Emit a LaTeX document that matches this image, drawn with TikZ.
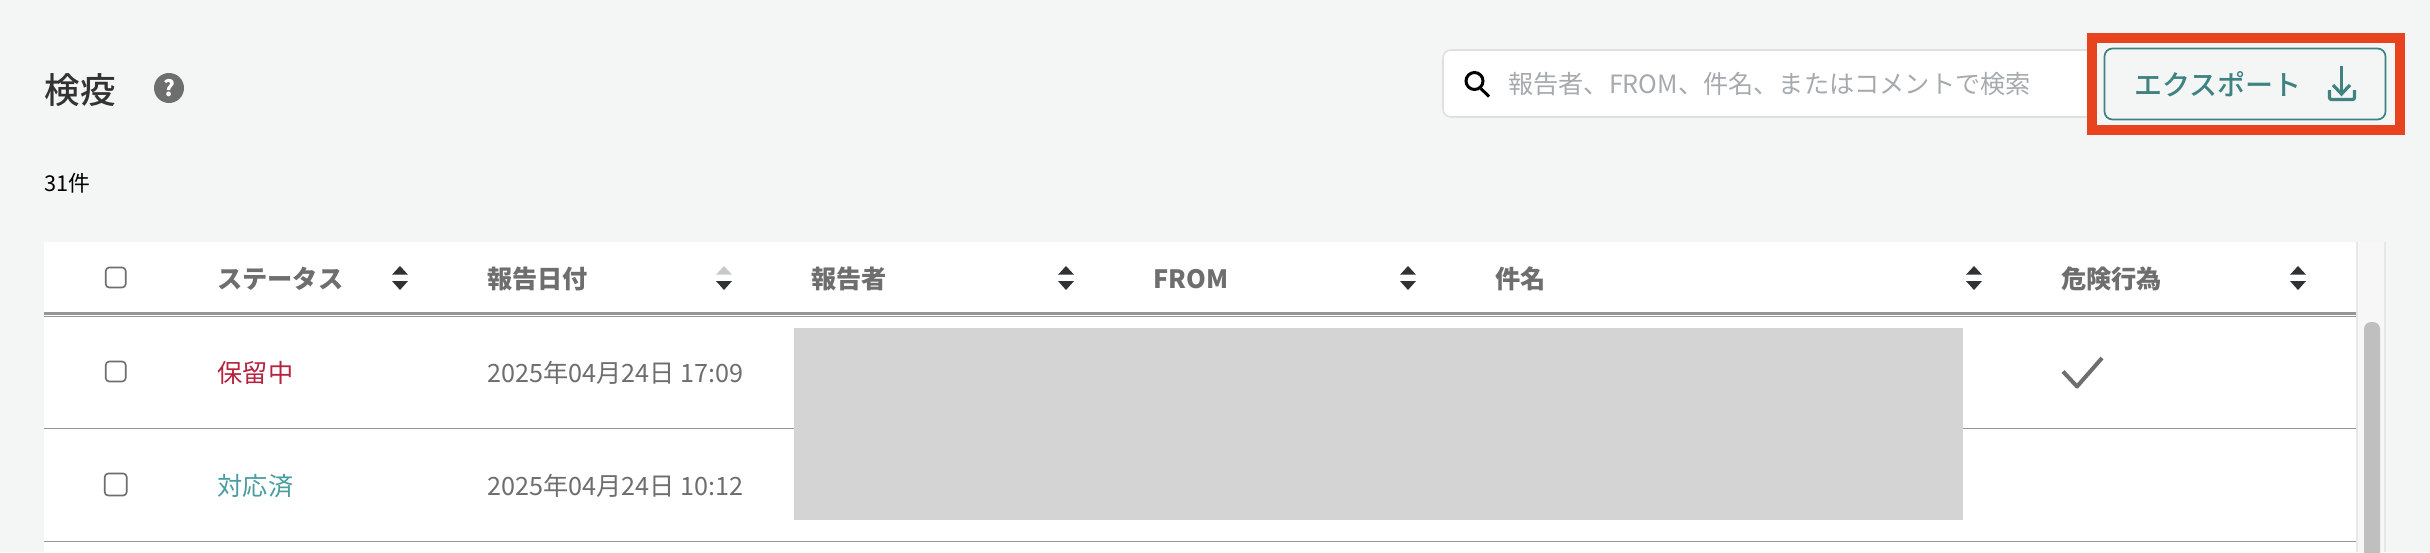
\documentclass[tikz,border=0pt]{standalone}
\usepackage{fontspec}
\setmainfont{Noto Sans CJK JP}
\newfontfamily\medfont{Noto Sans CJK JP Medium}
\usepackage{xcolor}
\usetikzlibrary{positioning}
\definecolor{pagebg}{HTML}{F4F6F5}
\definecolor{exportred}{HTML}{E8431F}
\definecolor{btnteal}{HTML}{3F8282}
\definecolor{headgrey}{HTML}{6E6E6E}
\definecolor{ruleGrey}{HTML}{969696}
\definecolor{arrowdark}{HTML}{2F3333}
\definecolor{arrowlight}{HTML}{C8C8C8}
\definecolor{holdred}{HTML}{B5233F}
\definecolor{doneteal}{HTML}{4A9D9E}
\definecolor{hintgrey}{HTML}{A6AAAE}
\tikzset{
 label/.style={inner sep=0pt,anchor=base west},
 headlabel/.style={label,text=headgrey,font=\fontsize{25.2}{25.2}\selectfont\bfseries},
 celllabel/.style={label,text=headgrey,font=\fontsize{25.2}{25.2}\selectfont},
 checkbox/.style={draw=headgrey,line width=1.6pt,rounded corners=3.5pt,fill=white},
 rowline/.style={draw=ruleGrey,line width=1.4pt},
}
\begin{document}
\begin{tikzpicture}[x=1pt,y=-1pt]
 \useasboundingbox[fill=pagebg] (0,0) rectangle (2430,552);
 % title and count
 \node[label,text=black!80,font=\fontsize{35.5}{35.5}\medfont] (title) at (44.5,103) {検疫};
 \node[circle,fill=headgrey,minimum size=30pt,inner sep=0pt,text=white,font=\fontsize{22}{22}\selectfont\bfseries] (help) at (169,88) {?};
 \node[label,text=black,font=\fontsize{21.8}{21.8}\selectfont] (count) at (44,191.5) {31件};
 % search box
 \draw[draw=black!12,line width=1.6pt,fill=white,rounded corners=8pt] (1443,50) rectangle (2100,117);
 \node[circle,draw=black,line width=3pt,minimum size=17pt,inner sep=0pt] (lens) at (1474.5,81) {};
 \draw[black,line width=3pt] (lens.-50) -- (1489,96.5);
 \node[label,text=hintgrey,font=\fontsize{25.2}{25.2}\selectfont] (hint) at (1508,93) {報告者、FROM、件名、またはコメントで検索};
 % export button with its red frame
 \draw[exportred,line width=10pt,fill=pagebg] (2092,38) rectangle (2400,130);
 \node[draw=btnteal,line width=1.7pt,rounded corners=8pt,minimum width=281pt,minimum height=71pt,inner sep=0pt] (button) at (2245,84) {};
 \node[label,text=btnteal,font=\fontsize{28}{28}\medfont] (export) at (2134.5,95) {エクスポート};
 \coordinate (dltop) at (2341.5,66);
 \coordinate (dltip) at (2341.5,94);
 \draw[btnteal,line width=3.2pt] (dltop) -- (dltip);
 \draw[btnteal,line width=3.2pt] (2333,85) -- (dltip) -- (2350,85);
 \draw[btnteal,line width=3.2pt,rounded corners=2pt] (2329.5,90) -- (2329.5,99.5) -- (2354.5,99.5) -- (2354.5,90);
 % table and scrollbar
 \fill[white] (44,242) rectangle (2356,552);
 \fill[black!3] (2356,242) rectangle (2384,552);
 \fill[black!9] (2356,242) rectangle (2358,552);
 \fill[black!9] (2384,242) rectangle (2386,552);
 \fill[black!25,rounded corners=7pt] (2364,322) rectangle (2380,570);
 \fill[ruleGrey] (44,311.7) rectangle (2356,314.5);
 \draw[rowline] (44,316.4) -- (2356,316.4);
 \draw[rowline] (44,428.4) -- (2356,428.4);
 \draw[rowline] (44,541.4) -- (2356,541.4);
 % header
 \node[checkbox,minimum width=20pt,minimum height=20pt] (boxhead) at (115.7,277.5) {};
 \node[headlabel] (status) at (217,288) {ステータス};
 \node[headlabel] (date) at (487,288) {報告日付};
 \node[headlabel] (reporter) at (811,288) {報告者};
 \node[headlabel] (from) at (1153,288) {FROM};
 \node[headlabel] (subject) at (1495,288) {件名};
 \node[headlabel] (danger) at (2061,288) {危険行為};
 \foreach \xpos/\upcol in {400/arrowdark,724/arrowlight,1066/arrowdark,1408/arrowdark,1974/arrowdark,2298/arrowdark}{
  \fill[\upcol] (\xpos-8,274.7) -- (\xpos,266) -- (\xpos+8,274.7) -- cycle;
  \fill[arrowdark] (\xpos-8,281) -- (\xpos,290) -- (\xpos+8,281) -- cycle;
 }
 % rows
 \node[checkbox,minimum width=20pt,minimum height=20pt] (boxone) at (115.7,371.5) {};
 \node[label,text=holdred,font=\fontsize{25.2}{25.2}\selectfont] (hold) at (217.5,382) {保留中};
 \node[celllabel] (dateone) at (487,382) {2025年04月24日 17:09};
 \draw[headgrey,line width=4pt,line join=round] (2063,371.5) -- (2077,386.5) -- (2102,358);
 \node[checkbox,minimum width=22pt,minimum height=22pt] (boxtwo) at (115.7,484.5) {};
 \node[label,text=doneteal,font=\fontsize{25.2}{25.2}\selectfont] (done) at (217.5,495) {対応済};
 \node[celllabel] (datetwo) at (487,495) {2025年04月24日 10:12};
 % redacted block
 \fill[black!17] (794,328) rectangle (1963,520);
\end{tikzpicture}
\end{document}
